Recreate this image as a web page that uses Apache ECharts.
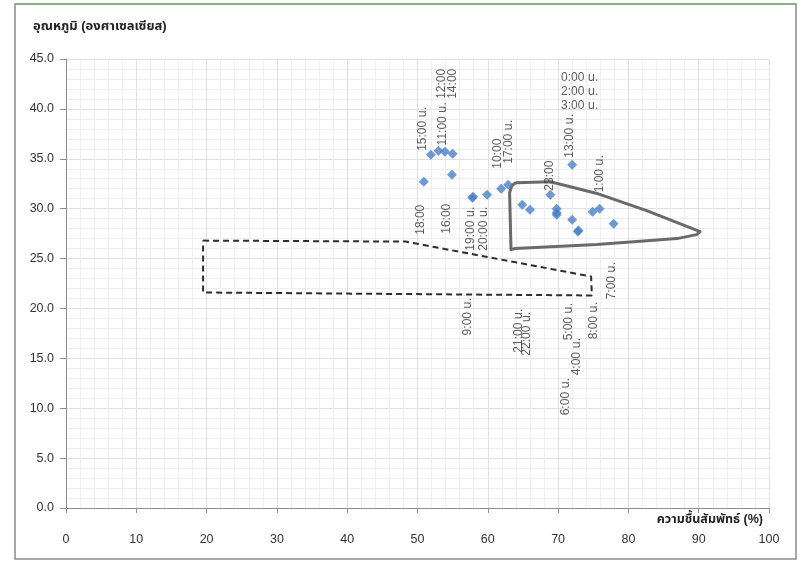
<!DOCTYPE html>
<html>
<head>
<meta charset="utf-8">
<script src="https://cdn.jsdelivr.net/npm/echarts@6/dist/echarts.min.js"></script>
<style>
  html, body { margin: 0; padding: 0; background: #ffffff; }
  #chart { width: 810px; height: 568px; }
</style>
</head>
<body>
<div id="chart"></div>
<script>
// Hourly readings: relative humidity (%) against air temperature (°C)
const hourLabels = [
  '0:00 น.', '1:00 น.', '2:00 น.', '3:00 น.', '4:00 น.', '5:00 น.',
  '6:00 น.', '7:00 น.', '8:00 น.', '9:00 น.', '10:00', '11:00 น.',
  '12:00', '13:00 น.', '14:00', '15:00 น.', '16:00', '17:00 น.',
  '18:00', '19:00 น.', '20:00 น.', '21:00 น.', '22:00 น.', '23:00'
];
const humidity = [
  69.8, 75.9, 69.8, 69.8, 72.9, 72.0,
  72.8, 77.9, 74.9, 57.8, 61.9, 53.0,
  53.9, 72.0, 55.0, 51.9, 54.9, 62.9,
  50.9, 57.9, 59.9, 64.9, 66.0, 68.9
];
const temperature = [
  30.0, 30.0, 29.6, 29.4, 27.8, 28.9,
  27.7, 28.5, 29.7, 31.1, 32.0, 35.8,
  35.7, 34.4, 35.5, 35.4, 33.4, 32.4,
  32.7, 31.2, 31.4, 30.4, 29.9, 31.4
];

// Outlined regions, in axis units (humidity %, temperature °C)
const dashedZone = [
  [19.5, 26.8], [48.3, 26.7], [74.7, 23.2], [74.8, 21.3], [19.5, 21.6], [19.5, 26.8]
];
const outlineZone = [
  [63.3, 25.9], [63.1, 31.6], [63.4, 32.3], [64.0, 32.6], [68.9, 32.7],
  [75.4, 31.55], [82.6, 29.8], [90.2, 27.7], [89.7, 27.4], [86.9, 27.0],
  [75.5, 26.4], [63.9, 26.0], [63.3, 25.9]
];

// Axis ranges and steps
const xRange = [0, 100], xStep = 10;
const yRange = [0, 45], yStep = 5;

// Where each hour's label sits relative to its point (screen px: right, down)
const labelShift = [
  [23, -131], [0, -35], [23, -121], [23, -109], [-2, 126], [-3, 102],
  [-12, 165], [-2, 57], [1, 109], [-5, 119], [-3, -35], [4, -27],
  [-3, -68], [-2, -29], [0, -70], [-8, -26], [-5, 44], [1, -43],
  [-3, 38], [-2, 32], [-3, 34], [-4, 126], [-3, 124], [-1, -19]
];
const flatLabels = [0, 2, 3];

const latin = '"Liberation Sans", Arial, "Noto Sans Thai", "Noto Sans", "DejaVu Sans", sans-serif';

const pointData = hourLabels.map((h, i) => {
  const [sx, sy] = labelShift[i];
  const flat = flatLabels.includes(i);
  return {
    name: h,
    value: [humidity[i], temperature[i]],
    label: flat
      ? { rotate: 0, offset: [sx, sy] }
      : { rotate: 90, offset: [-sy, sx] }
  };
});

const chart = echarts.init(document.getElementById('chart'), null, { renderer: 'canvas' });

chart.setOption({
  backgroundColor: '#ffffff',
  animation: false,
  title: {
    text: 'อุณหภูมิ (องศาเซลเซียส)',
    left: 33,
    top: 20,
    padding: 0,
    textStyle: { fontSize: 13, fontWeight: 'bold', color: '#222', fontFamily: latin }
  },
  graphic: [
    {
      type: 'rect', silent: true, z: -10,
      shape: { x: 15, y: 4, width: 781, height: 555 },
      style: { fill: 'none', stroke: '#8a8a8a', lineWidth: 1.5 }
    },
    {
      type: 'line', silent: true, z: -9,
      shape: { x1: 15, y1: 4, x2: 796, y2: 4 },
      style: { stroke: '#7bb67b', lineWidth: 1.5 }
    }
  ],
  grid: { left: 66, top: 59, width: 703, height: 449, containLabel: false },
  xAxis: {
    type: 'value',
    min: xRange[0], max: xRange[1], interval: xStep,
    name: 'ความชื้นสัมพัทธ์ (%)',
    nameLocation: 'end',
    nameGap: -6,
    nameTextStyle: {
      align: 'right', verticalAlign: 'top', padding: [5, 0, 0, 0],
      fontSize: 12.5, fontWeight: 'bold', color: '#222', fontFamily: latin
    },
    axisLine: { show: true, lineStyle: { color: '#8c8c9c', width: 1 } },
    axisTick: { show: true, length: 5, lineStyle: { color: '#8c8c9c' } },
    axisLabel: { margin: 25, fontSize: 12.5, color: '#333', fontFamily: latin },
    splitLine: { show: true, lineStyle: { color: '#dfdfe9', width: 1 } },
    minorTick: { show: false, splitNumber: 5 },
    minorSplitLine: { show: true, lineStyle: { color: '#ededf3', width: 1 } }
  },
  yAxis: {
    type: 'value',
    min: yRange[0], max: yRange[1], interval: yStep,
    axisLine: { show: true, lineStyle: { color: '#8c8c9c', width: 1 } },
    axisTick: { show: true, length: 6, lineStyle: { color: '#8c8c9c' } },
    axisLabel: {
      margin: 12, fontSize: 12.5, color: '#333', fontFamily: latin,
      formatter: v => v.toFixed(1)
    },
    splitLine: { show: true, lineStyle: { color: '#dfdfe9', width: 1 } },
    minorTick: { show: false, splitNumber: 5 },
    minorSplitLine: { show: true, lineStyle: { color: '#ededf3', width: 1 } }
  },
  series: [
    {
      type: 'line',
      name: 'dashed zone',
      data: dashedZone,
      symbol: 'none',
      silent: true,
      z: 3,
      lineStyle: { color: '#2c2c2c', width: 2, type: [6, 4] }
    },
    {
      type: 'line',
      name: 'outline zone',
      data: outlineZone,
      symbol: 'none',
      silent: true,
      z: 3,
      lineStyle: { color: '#6a6a6a', width: 3, join: 'round', cap: 'round' }
    },
    {
      type: 'scatter',
      name: 'hourly',
      data: pointData,
      symbol: 'diamond',
      symbolSize: 10,
      z: 5,
      itemStyle: { color: '#4a80c8' },
      label: {
        show: true,
        position: 'inside',
        formatter: '{b}',
        fontSize: 12,
        color: '#333',
        fontFamily: latin
      }
    }
  ]
});
</script>
</body>
</html>
